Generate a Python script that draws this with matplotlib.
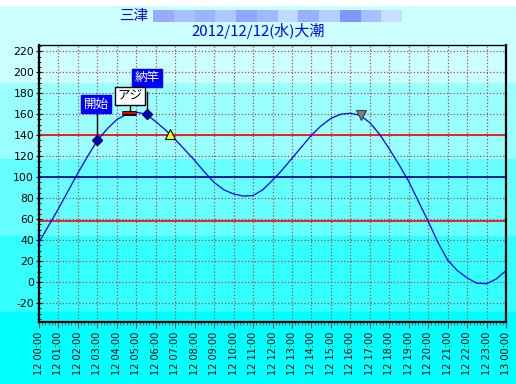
import matplotlib as mpl
import matplotlib.pyplot as plt
import numpy as np

mpl.rcParams.update({
    "font.family": ['Noto Sans CJK JP', 'DejaVu Sans'],
    "axes.unicode_minus": False,
})

# 潮位 (30分毎, 画像から読み取り)
hours = [0, 0.5, 1, 1.5, 2, 2.5, 3, 3.5, 4, 4.5, 5, 5.5, 6, 6.5, 7, 7.5, 8, 8.5,
         9, 9.5, 10, 10.5, 11, 11.5, 12, 12.5, 13, 13.5, 14, 14.5, 15, 15.5, 16,
         16.5, 17, 17.5, 18, 18.5, 19, 19.5, 20, 20.5, 21, 21.5, 22, 22.5, 23,
         23.5, 24]
level = [38, 54, 70, 87, 104, 120, 135, 146, 155, 160, 162, 160, 153, 145, 136,
         126, 116, 105, 95, 88, 84, 82, 82.5, 88, 97, 107, 118, 129, 140, 149,
         156, 160, 161, 159, 152, 141, 127, 112, 96, 77, 58, 38, 21, 11, 4, -1,
         -1.5, 3, 11]

xlabels = ['12 %02d:00' % h for h in range(24)] + ['13 00:00']
ref_red = [140, 58.5]
ref_navy = 100

# 釣果イベント
start_t, start_v = 3.0, 135
end_t, end_v = 5.54, 160
catch_t0, catch_t1, catch_v = 4.26, 5.0, 161
sunrise_t, sunrise_v = 6.71, 141
sunset_t, sunset_v = 16.55, 159

fig = plt.figure(figsize=(5.16, 3.84), dpi=100)

# 背景の帯
bg = fig.add_axes([0, 0, 1, 1], zorder=-10)
bg.set_xlim(0, 1)
bg.set_ylim(384, 0)
bg.axis('off')
band_edges = [0, 6, 83, 159, 236, 312, 384]
band_cols = ['#ffffff', '#ccffff', '#99ffff', '#66ffff', '#33ffff', '#00ffff']
for i, c in enumerate(band_cols):
    bg.axhspan(band_edges[i], band_edges[i + 1], color=c, lw=0)

# タイトル
bg.text(119 / 516, 16, '三津', color='#0000ff', fontsize=10.5, va='center', ha='left')
blur_cols = ['#99aaff', '#a8c0ff', '#9ab4ff', '#b0c8ff', '#8fa8ff', '#a0b8ff',
             '#c0d8ff', '#98b0ff', '#b8d0ff', '#7f98ff', '#a8c0ff', '#c8e0ff']
bw = (402 - 153) / len(blur_cols)
for i, c in enumerate(blur_cols):
    bg.add_patch(plt.Rectangle(((153 + i * bw) / 516, 10), bw / 516, 12, color=c, lw=0))
bg.text(258 / 516, 31, '2012/12/12(水)大潮', color='#0000ff', fontsize=10.8,
        va='center', ha='center')

ax = fig.add_axes([39 / 516, 62 / 384, 467 / 516, 277 / 384])
ax.set_facecolor('none')
ax.set_xlim(0, 24)
ax.set_ylim(-38, 226)

ax.set_xticks(range(25))
ax.set_xticklabels(xlabels, rotation=90, fontsize=7, family='DejaVu Sans')
ax.set_xticks(np.arange(0, 24.01, 1 / 6), minor=True)
ax.set_yticks(range(-20, 221, 20))
ax.set_yticklabels([str(v) for v in range(-20, 221, 20)], fontsize=7.8, family='DejaVu Sans')
ax.set_yticks(range(-35, 226, 5), minor=True)
ax.tick_params(axis='x', which='major', length=4, color='#a04040', pad=3)
ax.tick_params(axis='x', which='minor', length=2.5, color='#a04040')
ax.tick_params(axis='y', which='major', length=5, direction='inout', color='black', pad=1)
ax.tick_params(axis='y', which='minor', length=3, direction='inout', color='black')
ax.grid(True, which='major', color='#a05050', linestyle=':', linewidth=0.9)
for s in ax.spines.values():
    s.set_linewidth(1.6)
ax.spines['top'].set_linewidth(1.0)

for r in ref_red:
    ax.axhline(r, color='#ff0000', lw=1.2, zorder=2)
ax.axhline(ref_navy, color='#000080', lw=1.2, zorder=2)

ax.plot(hours, level, color='#0000ff', lw=0.9, zorder=3)

# 開始 / 納竿
ax.plot([start_t, start_t], [start_v, 163], color='black', lw=1, zorder=4)
ax.plot([end_t, end_t], [end_v, 181], color='black', lw=1, zorder=4)
ax.plot([start_t, end_t], [start_v, end_v], 'D', ms=5.5, color='#0000cc',
        mec='#000060', zorder=5)
ax.text(start_t - 0.05, 169.5, '開始', color='white', fontsize=9, ha='center', va='center',
        bbox=dict(boxstyle='square,pad=0.2', fc='#0000ff', ec='#0000ff'), zorder=6)
ax.text(end_t, 194.8, '納竿', color='white', fontsize=9, ha='center', va='center',
        bbox=dict(boxstyle='square,pad=0.2', fc='#0000ff', ec='#0000ff'), zorder=6)

# 釣果 アジ
ax.plot([4.7, 4.7], [catch_v, 170], color='black', lw=1, zorder=4)
ax.plot([catch_t0, catch_t1], [catch_v, catch_v], color='black', lw=3.5,
        solid_capstyle='butt', zorder=5)
ax.plot([catch_t0 + 0.03, catch_t1 - 0.03], [catch_v, catch_v], color='#dd0000', lw=1.6,
        solid_capstyle='butt', zorder=5)
ax.text(4.66, 177, 'アジ', color='black', fontsize=9, ha='center', va='center',
        bbox=dict(boxstyle='square,pad=0.2', fc='white', ec='black'), zorder=6)

# 日の出 / 日の入
ax.plot(sunrise_t, sunrise_v, '^', ms=7, color='#ffff00', mec='black', mew=0.8, zorder=5)
ax.plot(sunset_t, sunset_v, 'v', ms=7, color='#808080', mec='#404040', mew=0.8, zorder=5)

fig.savefig('out.png', dpi=100)
